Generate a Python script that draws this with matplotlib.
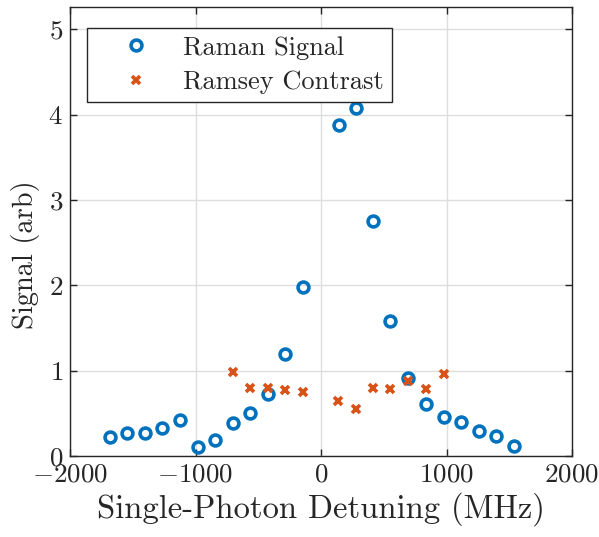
import matplotlib
matplotlib.use("Agg")
import matplotlib.pyplot as plt

plt.rcParams['font.family'] = 'serif'
plt.rcParams['font.serif'] = ['cmr10']
plt.rcParams['mathtext.fontset'] = 'cm'
plt.rcParams['axes.formatter.use_mathtext'] = True
plt.rcParams['axes.unicode_minus'] = True

raman_x = [-1685, -1542, -1403, -1266, -1126, -984, -844, -704, -564, -425, -285, -142,
           140, 279, 416, 553, 696, 838, 978, 1118, 1258, 1397, 1537]
raman_y = [0.217, 0.265, 0.273, 0.324, 0.427, 0.103, 0.182, 0.387, 0.506, 0.731, 1.198, 1.98,
           3.88, 4.08, 2.75, 1.58, 0.917, 0.613, 0.462, 0.403, 0.289, 0.233, 0.123]

ramsey_x = [-704, -564, -425, -285, -142, 137, 279, 416, 553, 696, 838, 978]
ramsey_y = [0.98, 0.80, 0.80, 0.775, 0.75, 0.644, 0.553, 0.80, 0.79, 0.877, 0.78, 0.964]

xticks = [-2000, -1000, 0, 1000, 2000]
yticks = [0, 1, 2, 3, 4, 5]

fig = plt.figure(figsize=(5.99, 5.37), dpi=100)
ax = fig.add_axes([70/599, 1-456/537, 502/599, 449/537])

ax.plot(raman_x, raman_y, linestyle='none', marker='o', markersize=7.8,
        markerfacecolor='none', markeredgecolor='#0072BD', markeredgewidth=2.6,
        label='Raman Signal')
ax.plot(ramsey_x, ramsey_y, linestyle='none', marker='x', markersize=5.4,
        markeredgecolor='#D95319', markeredgewidth=2.6, label='Ramsey Contrast')

ax.set_xlim(-2000, 2000)
ax.set_ylim(0, 5.26)
ax.set_xticks(xticks)
ax.set_yticks(yticks)
ax.grid(True, color='#dedede', linewidth=1.0)
ax.set_axisbelow(True)
ax.tick_params(direction='in', top=True, right=True, length=5, width=1,
               color='#262626', labelsize=19.5, labelcolor='#262626', pad=5)
for s in ax.spines.values():
    s.set_color('#262626')
    s.set_linewidth(1.0)

ax.set_xlabel('Single-Photon Detuning (MHz)', fontsize=23.5, color='#262626', labelpad=4)
ax.set_ylabel('Signal (arb)', fontsize=20.5, color='#262626')
ax.yaxis.set_label_coords((40 - 70) / 502, (456 - 255) / 449)

leg = ax.legend(loc='upper left', bbox_to_anchor=(17/502, 1-21/449), fontsize=19,
                frameon=True, fancybox=False, edgecolor='#262626', framealpha=1,
                handlelength=3.1, handletextpad=0.25, borderpad=0.3, labelspacing=0.4,
                borderaxespad=0)
leg.get_frame().set_linewidth(1.0)
for t in leg.get_texts():
    t.set_color('#262626')

fig.savefig('out.png', dpi=100)
